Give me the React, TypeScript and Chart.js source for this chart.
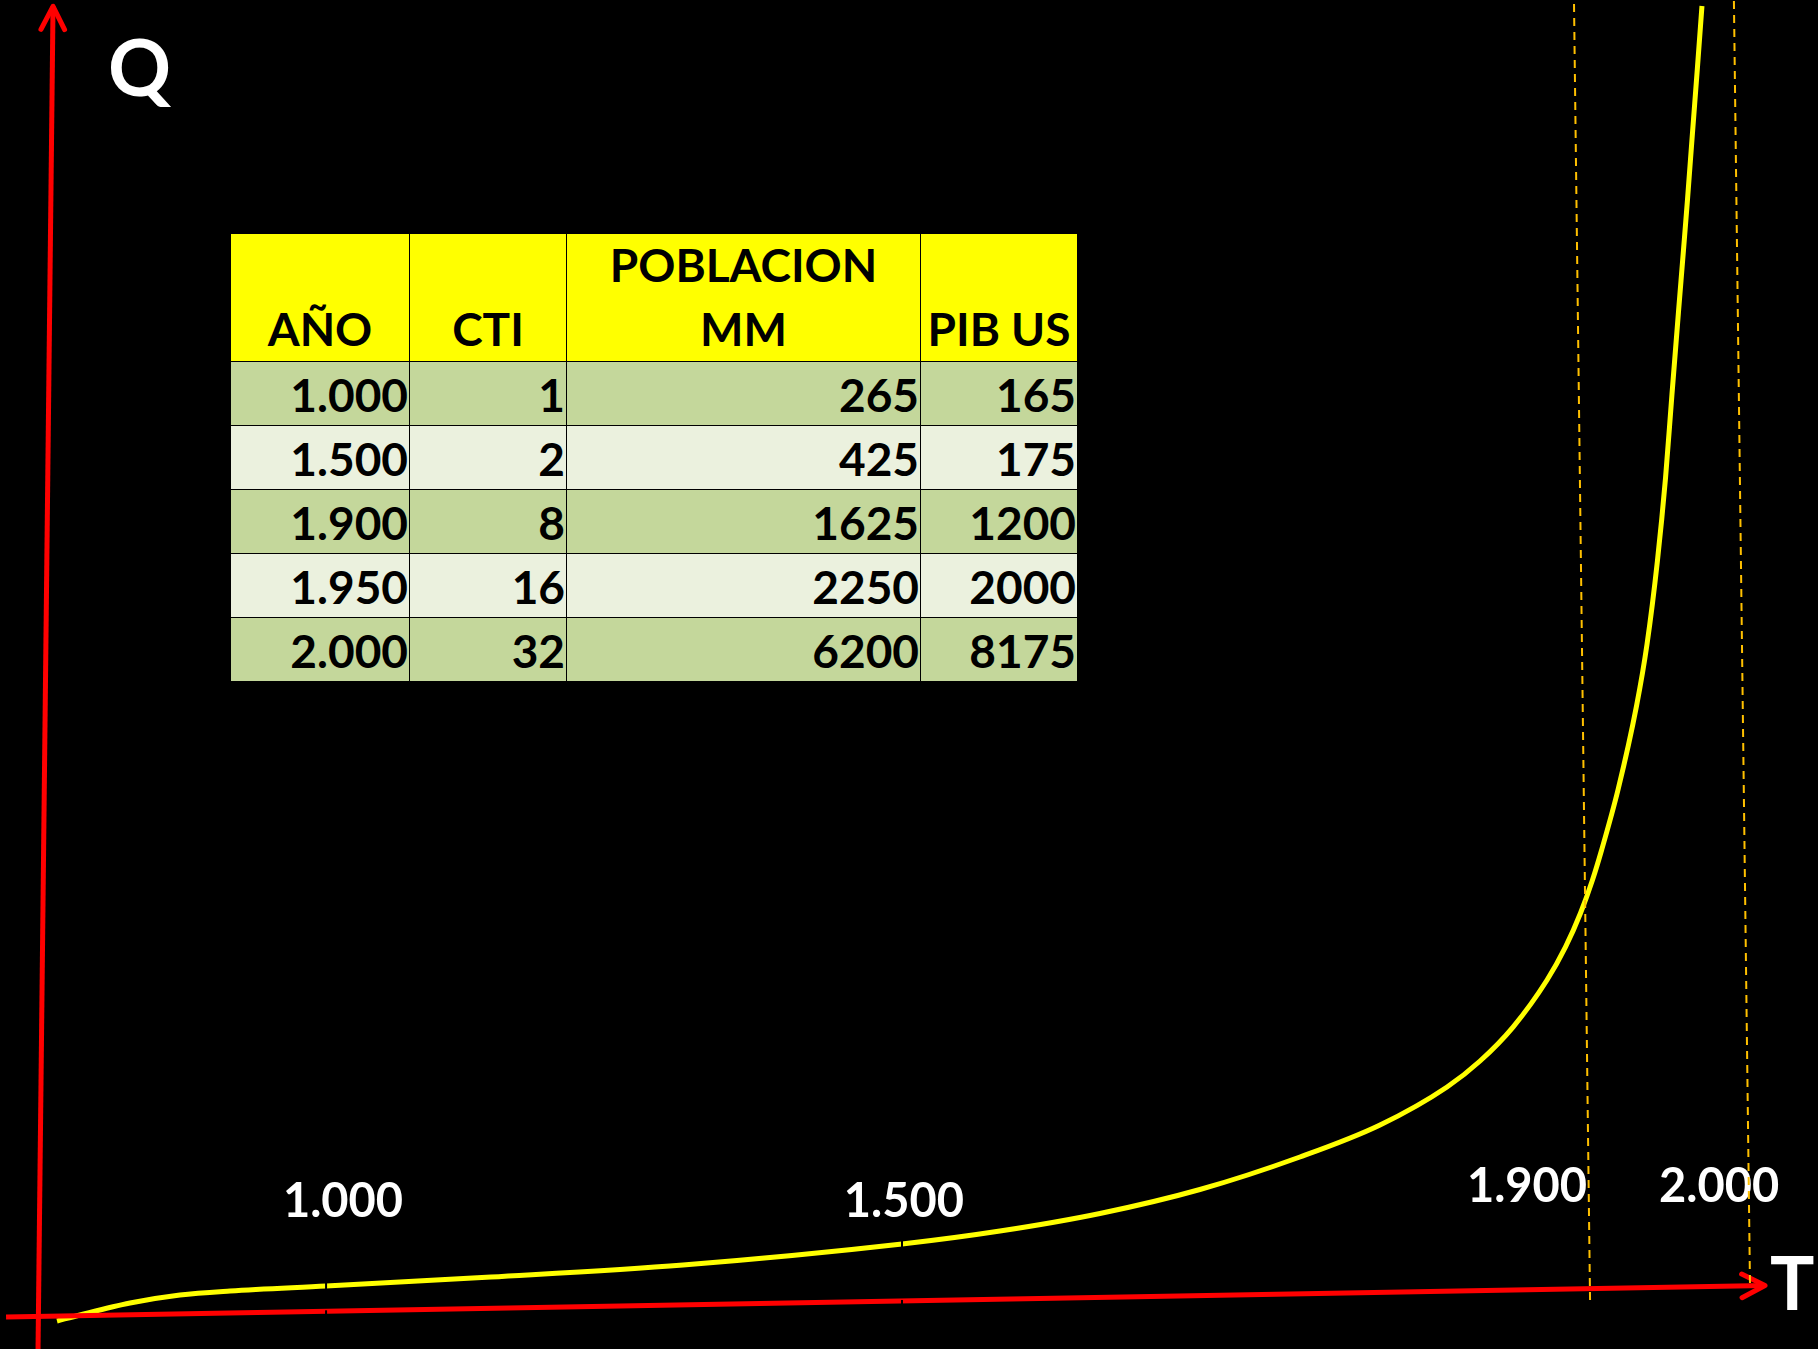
import React, { useEffect, useRef } from 'react';
import { Chart, registerables } from 'chart.js';

Chart.register(...registerables);

// ---------- DATA ----------
const tableHeaders: string[][] = [['AÑO'], ['CTI'], ['POBLACION', 'MM'], ['PIB US']];
const years = ['1.000', '1.500', '1.900', '1.950', '2.000'];
const ctiValues = [1, 2, 8, 16, 32];
const populationMM = [265, 425, 1625, 2250, 6200];
const gdpUS = [165, 175, 1200, 2000, 8175];

// Curve Q(T) (T and Q in axis units 0..100)
const curveT = [1.1, 2.43, 5.33, 8.22, 11.12, 16.68, 26.23, 37.35, 50.03, 55.7, 61.49, 67.28, 73.07, 77.71, 81.59, 83.5, 85.41, 87.38, 88.45, 89.32, 90.01, 90.54, 91.5, 92.56, 93.17, 93.77, 94.24, 94.61, 94.99, 95.28, 95.51, 95.8, 96.09, 96.35];
const curveQ = [-0.38, 0.08, 0.99, 1.6, 1.91, 2.29, 2.97, 3.89, 5.49, 6.48, 7.82, 9.65, 12.13, 14.57, 17.47, 19.45, 22.04, 25.63, 28.15, 30.74, 33.26, 35.55, 40.2, 46.53, 51.26, 57.59, 63.92, 70.25, 76.58, 81.31, 85.13, 90.24, 95.27, 99.92];

// Time axis labels and the positions (T units) of marked years
const timeLabels = ['1.000', '1.500', '1.900', '2.000'];
const markedTickT = [16.68, 50.03];
const axisTitleX = 'T';
const axisTitleY = 'Q';

// ---------- LAYOUT (positions in axis units) ----------
const LABEL_POS: [number, number][] = [[17.66, 7.55], [50.14, 7.55], [86.22, 8.7], [97.34, 8.7]];
const GUIDES: [[number, number], [number, number]][] = [
  [[89.87, 1.22], [88.94, 100.2]],
  [[99.13, 2.52], [98.2, 100.3]],
];
const X_AXIS: [[number, number], [number, number]] = [[-1.85, -0.08], [100, 2.33]];
const Y_AXIS: [[number, number], [number, number]] = [[0, -2.6], [0.87, 99.9]];
const Q_POS: [number, number] = [4.05, 93.06];
const T_POS: [number, number] = [100.29, 0.46];

const W = 1818;
const H = 1349;

function drawArrowLine(ctx: CanvasRenderingContext2D, x0: number, y0: number, x1: number, y1: number) {
  ctx.beginPath();
  ctx.lineCap = 'butt';
  ctx.moveTo(x0, y0);
  ctx.lineTo(x1, y1);
  ctx.stroke();
  const ang = Math.atan2(y1 - y0, x1 - x0);
  const len = 26;
  const spread = (27 * Math.PI) / 180;
  ctx.beginPath();
  ctx.lineCap = 'round';
  ctx.lineJoin = 'round';
  ctx.moveTo(x1 - len * Math.cos(ang - spread), y1 - len * Math.sin(ang - spread));
  ctx.lineTo(x1, y1);
  ctx.lineTo(x1 - len * Math.cos(ang + spread), y1 - len * Math.sin(ang + spread));
  ctx.stroke();
}

function interpCurve(t: number): number {
  for (let i = 0; i < curveT.length - 1; i++) {
    if (t >= curveT[i] && t <= curveT[i + 1]) {
      const f = (t - curveT[i]) / (curveT[i + 1] - curveT[i]);
      return curveQ[i] + f * (curveQ[i + 1] - curveQ[i]);
    }
  }
  return curveQ[curveQ.length - 1];
}

const sketchPlugin = {
  id: 'sketch',
  beforeDraw(chart: any) {
    const ctx = chart.ctx as CanvasRenderingContext2D;
    ctx.save();
    ctx.fillStyle = '#000000';
    ctx.fillRect(0, 0, chart.width, chart.height);
    ctx.restore();
  },
  afterDatasetsDraw(chart: any) {
    const ctx = chart.ctx as CanvasRenderingContext2D;
    const xs = chart.scales.x;
    const ys = chart.scales.y;
    const px = (t: number) => xs.getPixelForValue(t);
    const py = (q: number) => ys.getPixelForValue(q);
    ctx.save();

    // axes
    ctx.strokeStyle = '#FF0000';
    ctx.lineWidth = 5;
    drawArrowLine(ctx, px(X_AXIS[0][0]), py(X_AXIS[0][1]), px(X_AXIS[1][0]), py(X_AXIS[1][1]));
    drawArrowLine(ctx, px(Y_AXIS[0][0]), py(Y_AXIS[0][1]), px(Y_AXIS[1][0]), py(Y_AXIS[1][1]));

    // small black tick marks on curve and axis
    ctx.strokeStyle = '#000000';
    ctx.lineWidth = 2;
    ctx.lineCap = 'butt';
    markedTickT.forEach((t) => {
      const cx = px(t);
      const cq = interpCurve(t);
      const cy = py(cq);
      ctx.beginPath();
      ctx.moveTo(cx, cy - 3.5);
      ctx.lineTo(cx, cy + 3.5);
      ctx.stroke();
      const f = (t - X_AXIS[0][0]) / (X_AXIS[1][0] - X_AXIS[0][0]);
      const aq = X_AXIS[0][1] + f * (X_AXIS[1][1] - X_AXIS[0][1]);
      const ay = py(aq);
      ctx.beginPath();
      ctx.moveTo(cx, ay - 1);
      ctx.lineTo(cx, ay + 4);
      ctx.stroke();
    });

    // labels
    ctx.fillStyle = '#FFFFFF';
    ctx.textBaseline = 'alphabetic';
    ctx.textAlign = 'center';
    ctx.font = 'bold 47px Lato';
    timeLabels.forEach((lab, i) => {
      ctx.fillText(lab, px(LABEL_POS[i][0]), py(LABEL_POS[i][1]));
    });
    ctx.textAlign = 'left';
    ctx.font = 'bold 78px Lato';
    ctx.fillText(axisTitleY, px(Q_POS[0]), py(Q_POS[1]));
    ctx.font = 'bold 74px Lato';
    ctx.fillText(axisTitleX, px(T_POS[0]), py(T_POS[1]));

    // dashed guide lines
    ctx.strokeStyle = '#FFC000';
    ctx.lineWidth = 2;
    ctx.setLineDash([8, 6]);
    GUIDES.forEach(([a, b]) => {
      ctx.beginPath();
      ctx.moveTo(px(a[0]), py(a[1]));
      ctx.lineTo(px(b[0]), py(b[1]));
      ctx.stroke();
    });
    ctx.setLineDash([]);
    ctx.restore();
  },
};

function DataTable() {
  const cellBase: React.CSSProperties = {
    fontFamily: 'Lato, sans-serif',
    fontWeight: 700,
    fontSize: 46,
    color: '#000',
    overflow: 'visible',
    whiteSpace: 'nowrap',
  };
  const rows = years.map((y, i) => [y, String(ctiValues[i]), String(populationMM[i]), String(gdpUS[i])]);
  return (
    <div
      style={{
        position: 'absolute',
        left: 231,
        top: 234,
        width: 846,
        display: 'grid',
        gridTemplateColumns: '178px 156px 353px 156px',
        gridTemplateRows: '127px repeat(5, 63px)',
        gap: 1,
        background: '#000',
      }}
    >
      {tableHeaders.map((h, i) => (
        <div
          key={'h' + i}
          style={{
            ...cellBase,
            background: '#FFFF00',
            display: 'flex',
            flexDirection: 'column',
            justifyContent: 'flex-end',
            alignItems: 'center',
            lineHeight: '64px',
          }}
        >
          {h.map((line, j) => (
            <div key={j}>{line}</div>
          ))}
        </div>
      ))}
      {rows.map((r, ri) =>
        r.map((v, ci) => (
          <div
            key={ri + '-' + ci}
            style={{
              ...cellBase,
              background: ri % 2 === 0 ? '#C4D79B' : '#EBF1DE',
              textAlign: 'right',
              lineHeight: '66px',
              paddingRight: 1,
            }}
          >
            {v}
          </div>
        ))
      )}
    </div>
  );
}

export default function App() {
  const canvasRef = useRef<HTMLCanvasElement | null>(null);

  useEffect(() => {
    const canvas = canvasRef.current;
    if (!canvas) return;
    const chart = new Chart(canvas, {
      type: 'line',
      data: {
        datasets: [
          {
            label: 'Q',
            data: curveT.map((t, i) => ({ x: t, y: curveQ[i] })),
            borderColor: '#FFFF00',
            borderWidth: 5,
            pointRadius: 0,
            fill: false,
            cubicInterpolationMode: 'monotone',
            clip: false as any,
          },
        ],
      },
      options: {
        animation: false,
        responsive: false,
        devicePixelRatio: 1,
        layout: { padding: { left: 38, right: 53, top: 5, bottom: 33 } },
        scales: {
          x: { type: 'linear', min: 0, max: 100, display: false },
          y: { type: 'linear', min: 0, max: 100, display: false },
        },
        plugins: { legend: { display: false }, tooltip: { enabled: false } },
      },
      plugins: [sketchPlugin],
    });
    return () => chart.destroy();
  }, []);

  return (
    <div
      style={{
        position: 'fixed',
        left: 0,
        top: 0,
        width: W,
        height: H,
        background: '#000',
        overflow: 'hidden',
      }}
    >
      <canvas ref={canvasRef} width={W} height={H} style={{ display: 'block', width: W, height: H }} />
      <DataTable />
    </div>
  );
}
